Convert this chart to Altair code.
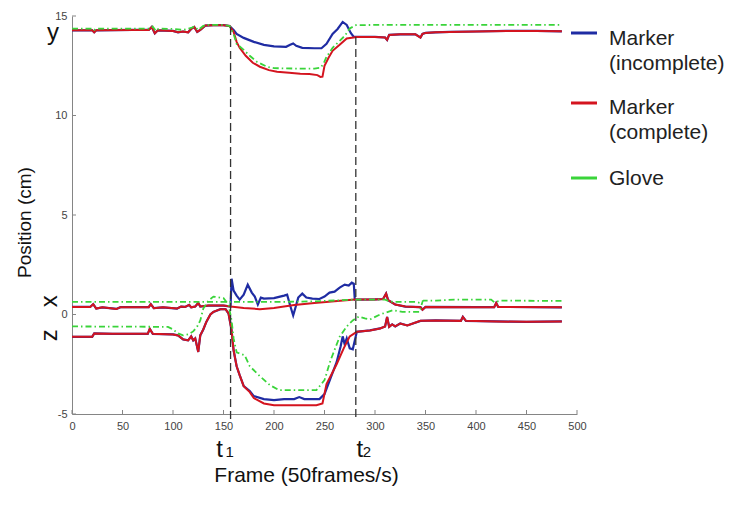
import altair as alt
import pandas as pd

FONT = "Liberation Sans"
BLUE = "#1f2ca3"
RED = "#d4141f"
GREEN = "#3ad43a"
AXIS_GRAY = "#858585"

# ---------------- data ----------------
# y component
red_y_f = [0, 20, 22, 24, 60, 76, 79, 82, 85, 100, 105, 110, 115, 118, 121, 124, 127, 132, 140, 150,
           156, 160, 163, 166, 172, 179, 186, 195, 203, 215, 226, 235, 243, 246, 248, 250, 254, 258, 265, 272,
           282, 300, 310, 312, 314, 325, 340, 345, 347, 350, 360, 374, 400, 430, 460, 485]
red_y_v = [14.28, 14.28, 14.18, 14.28, 14.3, 14.3, 14.45, 14.13, 14.28, 14.25, 14.18, 14.22, 14.18, 14.35, 14.45, 14.2, 14.3, 14.52, 14.54, 14.54,
           14.5, 14.2, 13.7, 13.4, 13.0, 12.65, 12.45, 12.28, 12.2, 12.15, 12.1, 12.08, 12.03, 11.94, 11.95, 12.5, 12.9, 13.25, 13.55, 13.87,
           13.95, 13.95, 13.92, 13.8, 14.05, 14.08, 14.08, 13.92, 14.1, 14.15, 14.18, 14.2, 14.22, 14.25, 14.25, 14.23]
blue_y_mid_f = [157, 160, 163, 170, 180, 190, 200, 212, 216, 219, 222, 228, 240, 247, 252, 258, 263, 268, 272, 276, 279]
blue_y_mid_v = [14.45, 14.3, 14.1, 13.9, 13.7, 13.55, 13.47, 13.45, 13.55, 13.62, 13.5, 13.4, 13.38, 13.38, 13.6, 14.1, 14.35, 14.7, 14.55, 14.15, 13.95]
green_y_f = [0, 20, 22, 24, 78, 80, 83, 86, 100, 110, 118, 121, 125, 130, 135, 150, 156, 160, 163, 170,
             176, 183, 193, 200, 220, 240, 246, 249, 252, 258, 265, 270, 275, 281, 300, 485]
green_y_v = [14.37, 14.37, 14.3, 14.37, 14.37, 14.47, 14.25, 14.37, 14.35, 14.3, 14.4, 14.48, 14.3, 14.5, 14.55, 14.55, 14.5, 14.1, 13.6, 13.3,
             13.0, 12.7, 12.45, 12.38, 12.36, 12.36, 12.4, 12.6, 12.95, 13.4, 13.75, 14.0, 14.37, 14.54, 14.55, 14.55]

# x component
red_x_f = [0, 18, 21, 24, 30, 44, 48, 76, 78, 81, 90, 104, 108, 112, 116, 118, 122, 125, 127, 135,
           150, 157, 170, 186, 200, 220, 240, 260, 280, 300, 308, 311, 313, 320, 330, 345, 347, 350, 400, 418,
           420, 422, 485]
red_x_v = [0.38, 0.38, 0.52, 0.3, 0.36, 0.28, 0.37, 0.37, 0.52, 0.32, 0.36, 0.3, 0.4, 0.38, 0.48, 0.36, 0.4, 0.58, 0.4, 0.45,
           0.45, 0.4, 0.33, 0.27, 0.33, 0.48, 0.58, 0.67, 0.75, 0.76, 0.78, 1.05, 0.72, 0.5, 0.4, 0.37, 0.24, 0.38, 0.37, 0.37,
           0.58, 0.38, 0.36]
blue_x_mid_f = [158, 160, 163, 166, 170, 174, 178, 181, 184, 187, 190, 200, 210, 213, 216, 219, 221, 224, 228, 232,
                238, 245, 250, 255, 260, 265, 270, 274, 277, 279]
blue_x_mid_v = [1.8, 1.2, 0.95, 0.75, 1.0, 1.5, 1.1, 0.9, 0.5, 0.85, 0.8, 0.82, 0.95, 1.0, 0.45, -0.05, 0.3, 0.85, 1.05, 0.85,
                0.8, 0.78, 0.9, 1.1, 1.15, 1.35, 1.5, 1.45, 1.6, 1.55]
green_x_f = [0, 157, 200, 240, 280, 310, 315, 320, 340, 345, 348, 360, 380, 415, 418, 425, 485]
green_x_v = [0.63, 0.63, 0.63, 0.66, 0.75, 0.75, 0.65, 0.63, 0.63, 0.58, 0.7, 0.7, 0.75, 0.75, 0.62, 0.7, 0.68]

# z component
red_z_f = [0, 20, 22, 40, 75, 77, 80, 100, 105, 110, 115, 118, 120, 122, 125, 127, 130, 133, 137, 140,
           147, 152, 155, 158, 160, 163, 166, 170, 176, 180, 190, 200, 242, 248, 252, 257, 262, 269, 275, 282,
           295, 305, 310, 312, 314, 317, 320, 325, 332, 345, 360, 385, 387, 390, 420, 450, 485]
red_z_v = [-1.12, -1.12, -0.95, -0.97, -0.97, -0.72, -0.97, -1.0, -1.05, -1.25, -1.3, -1.1, -1.3, -1.2, -1.88, -1.05, -0.75, -0.37, 0.0, 0.13,
           0.27, 0.27, 0.05, -0.8, -1.8, -2.6, -3.05, -3.6, -3.9, -4.2, -4.47, -4.56, -4.56, -4.47, -3.5, -3.0, -2.5, -1.7, -1.1, -0.87,
           -0.8, -0.7, -0.6, -0.12, -0.62, -0.5, -0.6, -0.45, -0.55, -0.32, -0.3, -0.32, -0.12, -0.32, -0.35, -0.37, -0.35]
blue_z_mid_f = [176, 180, 190, 200, 210, 220, 225, 230, 245, 250, 256, 262, 266, 268, 270, 272, 275, 278, 280]
blue_z_mid_v = [-3.85, -4.1, -4.25, -4.3, -4.25, -4.25, -4.15, -4.25, -4.25, -4.0, -3.2, -2.4, -1.6, -1.1, -1.5, -1.2, -1.7, -1.75, -1.3]
green_z_f = [0, 95, 100, 105, 110, 115, 120, 124, 127, 130, 135, 140, 150, 155, 158, 160, 163, 171, 176, 186,
             196, 205, 242, 250, 256, 265, 272, 278, 284, 290, 295, 305, 318, 327, 344, 347]
green_z_v = [-0.6, -0.62, -0.75, -0.95, -1.05, -1.0, -0.85, -0.6, -0.3, 0.3, 0.7, 0.9, 0.82, 0.5, -0.3, -1.2, -1.9, -2.05, -2.6, -3.1,
             -3.55, -3.8, -3.8, -3.3, -2.3, -1.12, -0.6, -0.3, -0.1, -0.2, -0.25, 0.0, 0.22, 0.13, 0.13, 0.63]

t_frames = [157, 281]          # event markers t1, t2
t_line_tops = [14.45, 13.95]
t_line_bottom = [-5.3, -5.3]
t_label_frames = [146, 285]
t_sub_frames = [156, 292]
t_subs = ["1", "2"]

comp_letters = ["y", "x", "z"]
comp_letter_pos = [14.15, 0.67, -1.04]

x_ticks = list(range(0, 501, 50))
y_ticks = [-5, 0, 5, 10, 15]

legend_labels = ["Marker\n(incomplete)", "Marker\n(complete)", "Glove"]


# ---------------- build tables ----------------
def splice(base_f, base_v, mid_f, mid_v, lo, hi):
    f = [a for a in base_f if a < lo] + mid_f + [a for a in base_f if a > hi]
    v = ([b for a, b in zip(base_f, base_v) if a < lo] + mid_v +
         [b for a, b in zip(base_f, base_v) if a > hi])
    return f, v


def table(f, v, comp):
    return pd.DataFrame({"frame": f, "value": v, "comp": comp, "idx": range(len(f))})


blue_y = table(*splice(red_y_f, red_y_v, blue_y_mid_f, blue_y_mid_v, 157, 281), "y")
blue_x = table(*splice(red_x_f, red_x_v, blue_x_mid_f, blue_x_mid_v, 158, 279), "x")
blue_z = table(*splice(red_z_f, red_z_v, blue_z_mid_f, blue_z_mid_v, 171, 281), "z")
blue_df = pd.concat([blue_y, blue_x, blue_z])
red_df = pd.concat([table(red_y_f, red_y_v, "y"), table(red_x_f, red_x_v, "x"), table(red_z_f, red_z_v, "z")])
green_df = pd.concat([table(green_y_f, green_y_v, "y"), table(green_x_f, green_x_v, "x"), table(green_z_f, green_z_v, "z")])

x_scale = alt.Scale(domain=[0, 500], nice=False, zero=False)
y_scale = alt.Scale(domain=[-5, 15], nice=False, zero=False)

X_AXIS = alt.Axis(values=x_ticks, title="Frame (50frames/s)", ticks=False, tickSize=0, grid=False,
                  labelPadding=6, labelFontSize=11, labelColor="#444", labelFont=FONT, labelFlush=False,
                  domainColor=AXIS_GRAY, titleFont=FONT, titleFontSize=21, titleFontWeight="normal",
                  titleColor="#111", titleX=234, titleY=67, titleBaseline="alphabetic", titleAlign="center")
Y_AXIS = alt.Axis(values=y_ticks, title="Position (cm)", ticks=False, tickSize=0, grid=False,
                  labelPadding=5, labelFontSize=11, labelColor="#444", labelFont=FONT, labelFlush=False,
                  labelExpr="datum.value", domainColor=AXIS_GRAY, titleFont=FONT, titleFontSize=19,
                  titleFontWeight="normal", titleColor="#111", titleX=-42, titleY=206, titleAngle=270,
                  titleBaseline="alphabetic", titleAlign="center")


def series_layer(df, color, width, dash=None, axis=False):
    kw = dict(color=color, strokeWidth=width)
    if dash:
        kw["strokeDash"] = dash
    return alt.Chart(df).mark_line(**kw).encode(
        x=alt.X("frame:Q", scale=x_scale, axis=X_AXIS if axis else None),
        y=alt.Y("value:Q", scale=y_scale, axis=Y_AXIS if axis else None),
        detail="comp:N",
        order=alt.Order("idx:Q"),
    )


blue_layer = series_layer(blue_df, BLUE, 2.2, axis=True)
red_layer = series_layer(red_df, RED, 2)
green_layer = series_layer(green_df, GREEN, 1.8, dash=[6, 3, 1.5, 3])

vlines = alt.Chart(pd.DataFrame({"frame": t_frames, "top": t_line_tops, "bottom": t_line_bottom})).mark_rule(
    color="#333", strokeDash=[8, 4], strokeWidth=1.3
).encode(
    x=alt.X("frame:Q", scale=x_scale, axis=None),
    y=alt.Y("top:Q", scale=y_scale, axis=None),
    y2="bottom:Q",
)

xticks = alt.Chart(pd.DataFrame({"frame": x_ticks})).mark_rule(color=AXIS_GRAY).encode(
    x=alt.X("frame:Q", scale=x_scale, axis=None), y=alt.value(398), y2=alt.value(394))
yticks = alt.Chart(pd.DataFrame({"v": y_ticks})).mark_rule(color=AXIS_GRAY).encode(
    y=alt.Y("v:Q", scale=y_scale, axis=None), x=alt.value(0), x2=alt.value(4))

letters_df = pd.DataFrame({"letter": comp_letters, "pos": comp_letter_pos})
letter_y = alt.Chart(letters_df).transform_filter("datum.letter == 'y'").mark_text(
    font=FONT, fontSize=24, color="#111", baseline="middle", align="center").encode(
    y=alt.Y("pos:Q", scale=y_scale, axis=None), x=alt.value(-19), text="letter:N")
letter_xz = alt.Chart(letters_df).transform_filter("datum.letter != 'y'").mark_text(
    font=FONT, fontSize=24, color="#111", baseline="middle", align="center", angle=270).encode(
    y=alt.Y("pos:Q", scale=y_scale, axis=None), x=alt.value(-22), text="letter:N")

tlab = alt.Chart(pd.DataFrame({"frame": t_label_frames, "t": ["t", "t"]})).mark_text(
    font=FONT, fontSize=24, color="#111", baseline="alphabetic", align="center").encode(
    x=alt.X("frame:Q", scale=x_scale, axis=None), y=alt.value(441), text="t:N")
tsub = alt.Chart(pd.DataFrame({"frame": t_sub_frames, "s": t_subs})).mark_text(
    font=FONT, fontSize=15, color="#111", baseline="alphabetic", align="center").encode(
    x=alt.X("frame:Q", scale=x_scale, axis=None), y=alt.value(441), text="s:N")

# legend (drawn as annotation to match the original layout)
leg_colors = [BLUE, RED, GREEN]
leg_line_y = [17, 87, 162]
leg_text_y = [29, 98, 169]
legend_layers = []
for lab, col, ly, ty in zip(legend_labels, leg_colors, leg_line_y, leg_text_y):
    d = pd.DataFrame({"label": [lab]})
    legend_layers.append(alt.Chart(d).mark_rule(color=col, strokeWidth=3).encode(
        x=alt.value(499), x2=alt.value(525), y=alt.value(ly)))
    legend_layers.append(alt.Chart(d).mark_text(
        font=FONT, fontSize=21, color="#222", align="left", baseline="alphabetic",
        lineBreak="\n", lineHeight=25).encode(x=alt.value(537), y=alt.value(ty), text="label:N"))

chart = alt.layer(
    blue_layer, red_layer, green_layer, vlines, xticks, yticks,
    letter_y, letter_xz, tlab, tsub, *legend_layers
).resolve_axis(
    x="independent", y="independent"
).properties(
    width=505, height=398,
    padding={"left": 64, "top": 8, "right": 151, "bottom": 88},
    autosize=alt.AutoSizeParams(type="none"),
    background="white",
).configure_view(stroke=None)

chart.save("out.html", embed_options={"renderer": "svg", "actions": False})
